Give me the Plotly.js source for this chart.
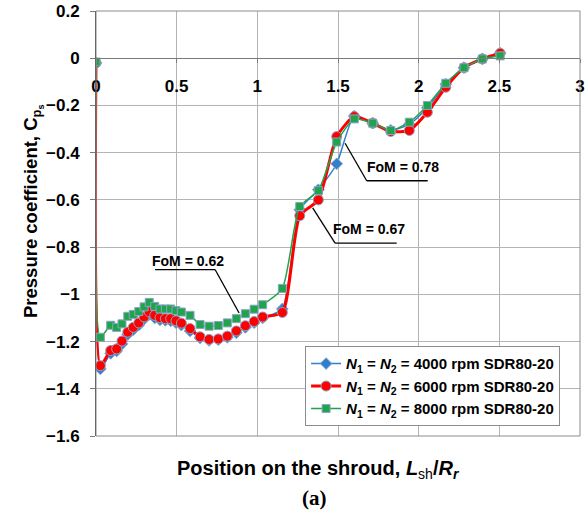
<!DOCTYPE html>
<html>
<head>
<meta charset="utf-8">
<script src="https://cdn.plot.ly/plotly-3.0.1.min.js"></script>
<style>html,body{margin:0;padding:0;background:#fff;}#chart{width:585px;height:511px;}</style>
</head>
<body>
<div id="chart"></div>
<script>
// Position on the shroud, Lsh/Rr
const xPos = [0, 0.027, 0.091, 0.128, 0.161, 0.197, 0.231, 0.265, 0.298, 0.330, 0.364, 0.397, 0.430, 0.463, 0.496, 0.529, 0.583, 0.645, 0.701, 0.758, 0.814, 0.870, 0.926, 0.980, 1.033, 1.155, 1.263, 1.378, 1.492, 1.601, 1.715, 1.827, 1.942, 2.054, 2.168, 2.281, 2.395, 2.505];

// Pressure coefficient Cps, N1 = N2 = 4000 rpm
const cp4000 = [-0.02, -1.316, -1.250, -1.240, -1.210, -1.170, -1.150, -1.130, -1.105, -1.085, -1.100, -1.108, -1.110, -1.112, -1.120, -1.130, -1.155, -1.185, -1.195, -1.192, -1.182, -1.163, -1.140, -1.120, -1.100, -1.062, -0.642, -0.557, -0.447, -0.245, -0.275, -0.305, -0.280, -0.210, -0.110, -0.040, -0.003, 0.021];
// N1 = N2 = 6000 rpm
const cp6000 = [-0.02, -1.302, -1.238, -1.231, -1.198, -1.160, -1.140, -1.121, -1.096, -1.074, -1.089, -1.099, -1.103, -1.103, -1.112, -1.122, -1.145, -1.180, -1.191, -1.189, -1.177, -1.155, -1.133, -1.115, -1.096, -1.077, -0.667, -0.600, -0.332, -0.247, -0.275, -0.310, -0.306, -0.229, -0.123, -0.040, -0.003, 0.021];
// N1 = N2 = 8000 rpm
const cp8000 = [-0.016, -1.182, -1.131, -1.140, -1.125, -1.093, -1.085, -1.073, -1.053, -1.034, -1.051, -1.062, -1.062, -1.062, -1.069, -1.075, -1.089, -1.128, -1.135, -1.132, -1.121, -1.103, -1.082, -1.063, -1.044, -0.975, -0.628, -0.561, -0.355, -0.257, -0.275, -0.306, -0.271, -0.200, -0.106, -0.040, -0.003, 0.010];

const seriesNames = [
  "<i>N</i><sub>1</sub> = <i>N</i><sub>2</sub> = 4000 rpm SDR80-20",
  "<i>N</i><sub>1</sub> = <i>N</i><sub>2</sub> = 6000 rpm SDR80-20",
  "<i>N</i><sub>1</sub> = <i>N</i><sub>2</sub> = 8000 rpm SDR80-20"
];

const xTicks = [0, 0.5, 1, 1.5, 2, 2.5, 3];
const xTickText = ["0", "0.5", "1", "1.5", "2", "2.5", "3"];
const yTicks = [0.2, 0, -0.2, -0.4, -0.6, -0.8, -1, -1.2, -1.4, -1.6];
const yTickText = ["0.2", "0", "\u22120.2", "\u22120.4", "\u22120.6", "\u22120.8", "\u22121", "\u22121.2", "\u22121.4", "\u22121.6"];

const fomLabels = ["FoM = 0.62", "FoM = 0.67", "FoM = 0.78"];

const xRange = [0, 3];
const yRange = [-1.6, 0.2];

const outline = {color: '#8aa4c4', width: 1};
const traces = [
  {x: xPos, y: cp4000, name: seriesNames[0], mode: 'lines+markers', line: {color: '#2f7fcf', width: 1.5, shape: 'spline', smoothing: 0.6},
   marker: {symbol: 'diamond', size: 9, color: '#2f7fcf', line: outline}},
  {x: xPos, y: cp6000, name: seriesNames[1], mode: 'lines+markers', line: {color: '#ff0000', width: 3, shape: 'spline', smoothing: 0.6},
   marker: {symbol: 'circle', size: 10, color: '#ff0000', line: outline}},
  {x: xPos, y: cp8000, name: seriesNames[2], mode: 'lines+markers', line: {color: '#1fa44c', width: 1.5, shape: 'spline', smoothing: 0.6},
   marker: {symbol: 'square', size: 8, color: '#1fa44c', line: outline}}
];

const lineStyle = {color: '#000', width: 1.3};
const layout = {
  width: 585, height: 511,
  margin: {l: 96, r: 5, t: 11, b: 75},
  paper_bgcolor: '#fff', plot_bgcolor: '#fff',
  font: {family: 'Liberation Sans, Arial, sans-serif', color: '#000'},
  showlegend: true,
  legend: {x: 0.432, y: 0.211, xanchor: 'left', yanchor: 'top', bgcolor: '#fff', bordercolor: '#8c8c8c', borderwidth: 1,
           font: {size: 15, weight: 'bold', family: 'Liberation Sans, Arial, sans-serif'}, tracegroupgap: 0, itemwidth: 30},
  xaxis: {
    range: xRange, tickvals: xTicks, ticktext: xTickText,
    anchor: 'free', position: (0 - yRange[0]) / (yRange[1] - yRange[0]),
    showgrid: true, gridcolor: '#b4b4b4', gridwidth: 1, zeroline: false,
    showline: true, linecolor: '#7a7a7a', linewidth: 1,
    ticks: 'outside', ticklen: 4, tickcolor: '#7a7a7a', ticklabelstandoff: 8,
    tickfont: {size: 17, weight: 'bold'},
    title: {text: ''}
  },
  yaxis: {
    range: yRange, tickvals: yTicks, ticktext: yTickText,
    showgrid: true, gridcolor: '#b4b4b4', gridwidth: 1, zeroline: false,
    showline: true, linecolor: '#404040', linewidth: 1,
    ticks: 'outside', ticklen: 5, tickcolor: '#7a7a7a', ticklabelstandoff: 7,
    tickfont: {size: 17, weight: 'bold'},
    title: {text: ''}
  },
  shapes: [
    {type: 'rect', xref: 'paper', yref: 'paper', x0: 0, x1: 1, y0: 0, y1: 1, line: {color: '#8c8c8c', width: 1}},
    {type: 'line', xref: 'x', yref: 'y', x0: 0.366, y0: -0.895, x1: 0.738, y1: -0.895, line: lineStyle},
    {type: 'line', xref: 'x', yref: 'y', x0: 0.738, y0: -0.895, x1: 0.887, y1: -1.079, line: lineStyle},
    {type: 'line', xref: 'x', yref: 'y', x0: 1.343, y0: -0.634, x1: 1.482, y1: -0.783, line: lineStyle},
    {type: 'line', xref: 'x', yref: 'y', x0: 1.482, y0: -0.783, x1: 1.864, y1: -0.783, line: lineStyle},
    {type: 'line', xref: 'x', yref: 'y', x0: 1.544, y0: -0.360, x1: 1.678, y1: -0.519, line: lineStyle},
    {type: 'line', xref: 'x', yref: 'y', x0: 1.678, y0: -0.519, x1: 2.056, y1: -0.519, line: lineStyle}
  ],
  annotations: [
    {text: fomLabels[0], x: 0.572, y: -0.857, xref: 'x', yref: 'y', showarrow: false, font: {size: 14, weight: 'bold'}},
    {text: fomLabels[1], x: 1.693, y: -0.722, xref: 'x', yref: 'y', showarrow: false, font: {size: 14, weight: 'bold'}},
    {text: fomLabels[2], x: 1.901, y: -0.459, xref: 'x', yref: 'y', showarrow: false, font: {size: 14, weight: 'bold'}},
    {text: 'Pressure coefficient, C<sub>p<sub>s</sub></sub>', xref: 'paper', yref: 'paper', textangle: -90,
     x: (33 - 96) / 484, y: (436 - 212) / 425, xanchor: 'center', yanchor: 'middle', showarrow: false,
     font: {size: 18.5, weight: 'bold'}},
    {text: 'Position on the shroud, <i>L</i><sub><span style="font-weight:normal">sh</span></sub>/<i>R</i><sub><i>r</i></sub>', xref: 'paper', yref: 'paper',
     x: (318 - 96) / 484, y: -(469 - 436) / 425, xanchor: 'center', yanchor: 'middle', showarrow: false,
     font: {size: 20, weight: 'bold'}},
    {text: '(a)', xref: 'paper', yref: 'paper', x: (314 - 96) / 484, y: -(498 - 436) / 425, xanchor: 'center', yanchor: 'middle',
     showarrow: false, font: {size: 21, weight: 'bold', family: 'Liberation Serif, Times New Roman, serif'}}
  ]
};

Plotly.newPlot('chart', traces, layout, {staticPlot: true, displayModeBar: false});
</script>
</body>
</html>
